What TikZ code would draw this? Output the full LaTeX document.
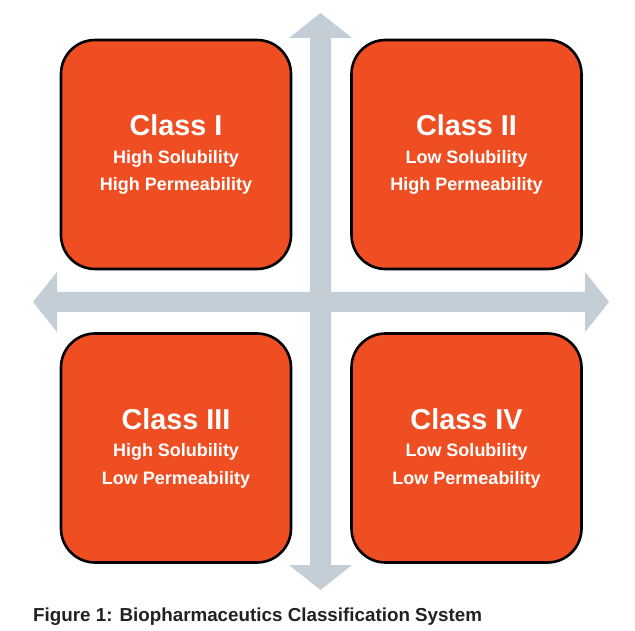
\documentclass[tikz,border=0pt]{standalone}
\usepackage{fontspec}
\setmainfont{Liberation Sans}
\definecolor{boxorange}{HTML}{EF4E23}
\definecolor{axisgray}{HTML}{C3CED6}
\definecolor{captiondark}{HTML}{222222}
\newcommand{\ttlsize}{\fontsize{28.8}{27.5}\selectfont}
\begin{document}
\begin{tikzpicture}[x=1pt,y=-1pt,
  classbox/.style={draw=black, line width=2.6pt, fill=boxorange, rounded corners=34pt,
    minimum width=230pt, minimum height=229pt, inner sep=0pt, text=white,
    align=center, font=\fontsize{18}{27.5}\selectfont\bfseries}]
\useasboundingbox[fill=white] (0,0) rectangle (635,631);
% axes
\coordinate (ltip) at (33,302);
\coordinate (rtip) at (609,302);
\coordinate (ttip) at (320.5,13);
\coordinate (btip) at (320.5,590);
\fill[axisgray] (ltip) -- (57,272) -- (57,292) -- (310,292) -- (310,38) -- (289,38) -- (ttip)
  -- (352,38) -- (331,38) -- (331,292) -- (585,292) -- (585,272) -- (rtip)
  -- (585,332) -- (585,312) -- (331,312) -- (331,565) -- (352,565) -- (btip)
  -- (289,565) -- (310,565) -- (310,312) -- (57,312) -- (57,332) -- cycle;
% boxes
\node[classbox] (c1) at (176,154.5) {{\ttlsize Class I}\\High Solubility\\High Permeability};
\node[classbox] (c2) at (466.5,154.5) {{\ttlsize Class II}\\Low Solubility\\High Permeability};
\node[classbox] (c3) at (176,448) {{\ttlsize Class III}\\High Solubility\\Low Permeability};
\node[classbox] (c4) at (466.5,448) {{\ttlsize Class IV}\\Low Solubility\\Low Permeability};
% caption
\node[anchor=base west, inner sep=0pt, text=captiondark,
  font=\fontsize{18.8}{22}\selectfont\bfseries] (cap) at (33,621)
  {Figure 1: Biopharmaceutics Classification System};
\end{tikzpicture}
\end{document}
